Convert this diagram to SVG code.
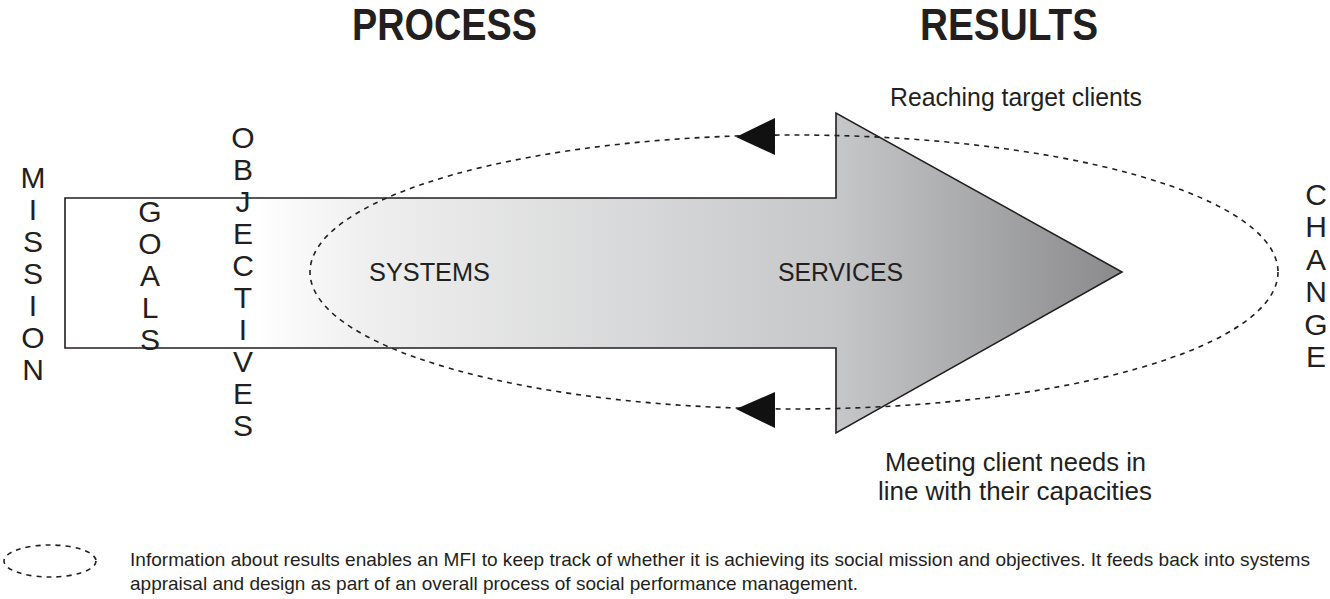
<svg xmlns="http://www.w3.org/2000/svg" width="1330" height="599" viewBox="0 0 1330 599">
  <style>
    text { font-family: "Liberation Sans", Arial, sans-serif; fill: #231f20; }
    .head { font-size: 44px; font-weight: bold; }
    .lbl { font-size: 25px; }
    .vert { font-size: 30px; text-anchor: middle; }
    .note { font-size: 19px; }
    .dash { fill: none; stroke: #231f20; stroke-width: 1.6; stroke-dasharray: 5 5; }
    .ah { fill: #111; }
  </style>
  <defs>
    <linearGradient id="g" gradientUnits="userSpaceOnUse" x1="255" y1="0" x2="1122" y2="0">
      <stop offset="0" stop-color="#ffffff"/>
      <stop offset="0.13" stop-color="#efefef"/>
      <stop offset="0.67" stop-color="#c6c7c9"/>
      <stop offset="1" stop-color="#8a8a8d"/>
    </linearGradient>
  </defs>

  <g id="headers">
    <text class="head" x="352" y="40" textLength="185" lengthAdjust="spacingAndGlyphs">PROCESS</text>
    <text class="head" x="920" y="40" textLength="178" lengthAdjust="spacingAndGlyphs">RESULTS</text>
  </g>

  <g id="arrow">
    <path d="M65,198 H836 V113 L1122,272 L836,433 V348 H65 Z" fill="url(#g)" stroke="#231f20" stroke-width="1.6"/>
    <text class="lbl" x="369" y="281" textLength="121" lengthAdjust="spacingAndGlyphs">SYSTEMS</text>
    <text class="lbl" x="778" y="281" textLength="125" lengthAdjust="spacingAndGlyphs">SERVICES</text>
  </g>

  <g id="connectors">
    <ellipse class="dash" cx="794" cy="272" rx="484" ry="137"/>
    <polygon class="ah" points="736,137 775,118 775,155"/>
    <polygon class="ah" points="736,409 775,392 775,428"/>
  </g>

  <g id="mission">
    <text class="vert" x="33" y="188">M</text>
    <text class="vert" x="33" y="220">I</text>
    <text class="vert" x="33" y="252">S</text>
    <text class="vert" x="33" y="284">S</text>
    <text class="vert" x="33" y="316">I</text>
    <text class="vert" x="33" y="348">O</text>
    <text class="vert" x="33" y="380">N</text>
  </g>

  <g id="goals">
    <text class="vert" x="150" y="222">G</text>
    <text class="vert" x="150" y="254">O</text>
    <text class="vert" x="150" y="286">A</text>
    <text class="vert" x="150" y="318">L</text>
    <text class="vert" x="150" y="350">S</text>
  </g>

  <g id="objectives">
    <text class="vert" x="243" y="148">O</text>
    <text class="vert" x="243" y="180">B</text>
    <text class="vert" x="243" y="212">J</text>
    <text class="vert" x="243" y="244">E</text>
    <text class="vert" x="243" y="276">C</text>
    <text class="vert" x="243" y="308">T</text>
    <text class="vert" x="243" y="340">I</text>
    <text class="vert" x="243" y="372">V</text>
    <text class="vert" x="243" y="404">E</text>
    <text class="vert" x="243" y="436">S</text>
  </g>

  <g id="change">
    <text class="vert" x="1316" y="205">C</text>
    <text class="vert" x="1316" y="237">H</text>
    <text class="vert" x="1316" y="270">A</text>
    <text class="vert" x="1316" y="302">N</text>
    <text class="vert" x="1316" y="335">G</text>
    <text class="vert" x="1316" y="367">E</text>
  </g>

  <g id="reaching">
    <text class="lbl" x="890" y="106" textLength="252" lengthAdjust="spacingAndGlyphs">Reaching target clients</text>
  </g>

  <g id="meeting">
    <text class="lbl" x="885" y="471" textLength="261" lengthAdjust="spacingAndGlyphs">Meeting client needs in</text>
    <text class="lbl" x="878" y="500" textLength="274" lengthAdjust="spacingAndGlyphs">line with their capacities</text>
  </g>

  <g id="legend">
    <ellipse class="dash" cx="50" cy="561" rx="46" ry="16"/>
    <text class="note" x="130" y="566" textLength="1180" lengthAdjust="spacingAndGlyphs">Information about results enables an MFI to keep track of whether it is achieving its social mission and objectives. It feeds back into systems</text>
    <text class="note" x="130" y="590" textLength="728" lengthAdjust="spacingAndGlyphs">appraisal and design as part of an overall process of social performance management.</text>
  </g>
</svg>
